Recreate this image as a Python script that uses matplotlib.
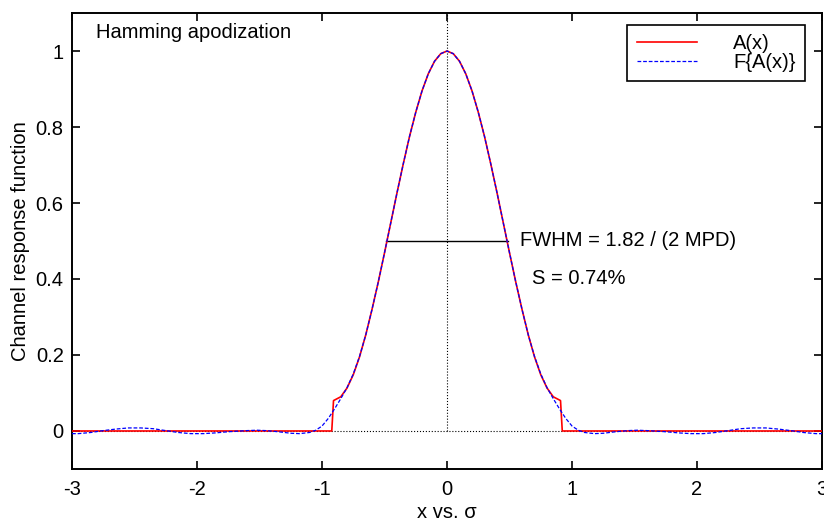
import numpy as np
import matplotlib
matplotlib.use("Agg")
import matplotlib.pyplot as plt

plt.rcParams['font.family'] = ['Liberation Sans', 'DejaVu Sans']
plt.rcParams['font.size'] = 14.5

# A(x): apodization function (right half, mirrored)
ax_half = [0.0, 0.05, 0.1, 0.15, 0.2, 0.25, 0.3, 0.35, 0.4, 0.45, 0.5, 0.55,
           0.6, 0.65, 0.7, 0.75, 0.8, 0.85, 0.908, 0.922, 3.0]
ay_half = [1.0, 0.993, 0.973, 0.940, 0.895, 0.839, 0.775, 0.703, 0.627, 0.548,
           0.469, 0.392, 0.320, 0.253, 0.195, 0.148, 0.113, 0.090, 0.080, 0.0, 0.0]

# F{A(x)}: the transformed curve (right half, mirrored)
fx_half = [0.0, 0.05, 0.1, 0.15, 0.2, 0.25, 0.3, 0.35, 0.4, 0.45, 0.5, 0.55,
           0.6, 0.65, 0.7, 0.75, 0.8, 0.85, 0.9, 0.95, 1.0, 1.05, 1.1, 1.18,
           1.25, 1.35, 1.45, 1.52, 1.6, 1.75, 1.85, 1.95, 2.05, 2.15, 2.25,
           2.35, 2.45, 2.55, 2.65, 2.75, 2.85, 2.95, 3.0]
fy_half = [1.0, 0.993, 0.973, 0.940, 0.895, 0.839, 0.775, 0.703, 0.627, 0.548,
           0.469, 0.392, 0.320, 0.253, 0.196, 0.150, 0.114, 0.085, 0.058, 0.033,
           0.013, 0.002, -0.004, -0.007, -0.006, -0.002, 0.001, 0.002, 0.001,
           -0.002, -0.005, -0.007, -0.007, -0.004, 0.001, 0.006, 0.008, 0.008,
           0.005, 0.001, -0.004, -0.007, -0.007]

fwhm_x = [-0.49, 0.49]
fwhm_y = [0.5, 0.5]

ax_half = np.array(ax_half)
ay_half = np.array(ay_half)
fx_half = np.array(fx_half)
fy_half = np.array(fy_half)
ax_full = np.concatenate([-ax_half[::-1], ax_half[1:]])
ay_full = np.concatenate([ay_half[::-1], ay_half[1:]])
fx_full = np.concatenate([-fx_half[::-1], fx_half[1:]])
fy_full = np.concatenate([fy_half[::-1], fy_half[1:]])

fig = plt.figure(figsize=(8.24, 5.23), dpi=100)
ax = fig.add_axes([0.0874, 0.1033, 0.9102, 0.8718])

ax.plot([-3, 3], [0, 0], color='black', ls=':', lw=0.8, zorder=1)
ax.plot([0, 0], [0, 1.1], color='black', ls=':', lw=0.8, zorder=1)
ax.plot(ax_full, ay_full, color='red', lw=1.2, label='A(x)', zorder=3)
ax.plot(fx_full, fy_full, color='blue', lw=0.9, ls=(0, (3, 1.5)), label='F{A(x)}', zorder=4)
ax.plot(fwhm_x, fwhm_y, color='black', lw=1.0, zorder=2)

ax.text(0.58, 0.5, 'FWHM = 1.82 / (2 MPD)', va='center', ha='left')
ax.text(0.68, 0.40, 'S = 0.74%', va='center', ha='left')
ax.text(-2.81, 1.05, 'Hamming apodization', va='center', ha='left')

ax.set_xlim(-3, 3)
ax.set_ylim(-0.1, 1.1)
ax.set_xticks([-3, -2, -1, 0, 1, 2, 3])
ax.set_xticklabels(['-3', '-2', '-1', '0', '1', '2', '3'])
ax.set_yticks([0, 0.2, 0.4, 0.6, 0.8, 1.0])
ax.set_yticklabels(['0', '0.2', '0.4', '0.6', '0.8', '1'])
ax.tick_params(direction='in', length=6, width=1.2, top=True, right=True, pad=8)
ax.tick_params(axis='y', pad=6)
for s in ax.spines.values():
    s.set_linewidth(1.4)

ax.set_xlabel('x vs. σ', labelpad=3)
ax.set_ylabel('Channel response function', labelpad=4)

leg = ax.legend(loc='upper right', bbox_to_anchor=(0.977, 0.974), borderaxespad=0,
                fancybox=False, edgecolor='black', framealpha=1, handlelength=3.0,
                handletextpad=1.8, labelspacing=0.0, borderpad=0.45)
leg.get_frame().set_linewidth(1.2)

fig.savefig('out.png', dpi=100)
